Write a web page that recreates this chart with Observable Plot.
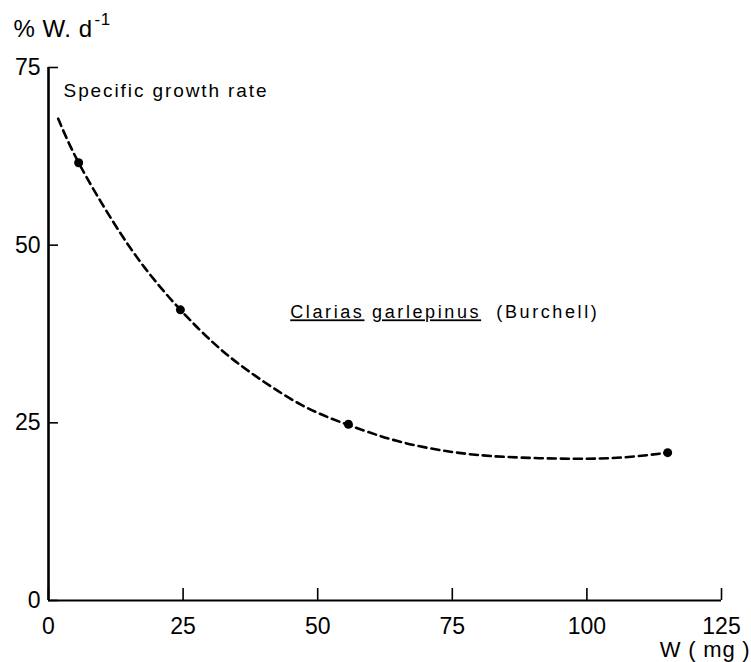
<!DOCTYPE html>
<html><head><meta charset="utf-8">
<script src="https://cdn.jsdelivr.net/npm/d3@7"></script>
<script src="https://cdn.jsdelivr.net/npm/@observablehq/plot@0.6"></script>
<style>body{margin:0;background:#fff}</style>
</head><body><div id="chart"></div>
<script>
// Observed points: weight W (mg) and specific growth rate (% W per day)
const weight = [5.6, 24.5, 55.7, 115];
const rate = [61.6, 40.9, 24.8, 20.8];
// Fitted dashed curve
const curveWeight = [1.8, 5.6, 12, 18, 24.5, 31, 37.5, 46.8, 55.7, 65, 75, 85, 97.5, 107, 115];
const curveRate = [67.8, 61.6, 53.3, 46.7, 40.9, 36.0, 32.1, 27.6, 24.7, 22.4, 20.9, 20.2, 19.95, 20.15, 20.8];
const xTicks = [0, 25, 50, 75, 100, 125];
const yTicks = [0, 25, 50, 75];
const yLabel = "% W. d";
const ySup = "-1";
const xLabel = "W ( mg )";
const panelTitle = "Specific growth rate";
const speciesGenus = "Clarias";
const speciesName = "garlepinus";
const speciesAuthor = "(Burchell)";

const points = weight.map((w, i) => ({w, r: rate[i]}));
const curve = curveWeight.map((w, i) => ({w, r: curveRate[i]}));

const W = 751, H = 662, mL = 48, mR = 30, mT = 67, mB = 62;
const frameW = W - mL - mR, frameH = H - mT - mB;
const font = "'Liberation Sans', Arial, Helvetica, sans-serif";

const chart = Plot.plot({
  width: W, height: H,
  marginLeft: mL, marginRight: mR, marginTop: mT, marginBottom: mB,
  x: {domain: [0, 125]},
  y: {domain: [0, 75]},
  style: {fontFamily: font, background: "#fff", color: "#000"},
  marks: [
    Plot.ruleX([0], {stroke: "#000", strokeWidth: 2.6}),
    Plot.ruleY([0], {stroke: "#000", strokeWidth: 2}),
    Plot.tickX(xTicks, {x: d => d, insetTop: frameH - 12, stroke: "#000", strokeWidth: 1.6}),
    Plot.tickY(yTicks, {y: d => d, insetRight: frameW - 10, stroke: "#000", strokeWidth: 1.6}),
    Plot.axisX({ticks: xTicks, tickSize: 0, tickPadding: 17, fontSize: 23, label: null}),
    Plot.axisY({ticks: yTicks, tickSize: 0, tickPadding: 8, fontSize: 23, label: null}),
    Plot.line(curve, {x: "w", y: "r", curve: "natural", stroke: "#000", strokeWidth: 2.6, strokeDasharray: "8,5"}),
    Plot.dot(points, {x: "w", y: "r", r: 4.5, fill: "#000", stroke: "none"}),
    Plot.text([yLabel], {frameAnchor: "top-left", dx: -35, dy: -31, text: d => d, textAnchor: "start", lineAnchor: "bottom", fontSize: 24, fill: "#000"}),
    Plot.text([xLabel], {frameAnchor: "bottom-right", dx: 29, dy: 56, text: d => d, textAnchor: "end", lineAnchor: "bottom", fontSize: 22, fill: "#000"}),
    Plot.text([panelTitle], {x: 2.8, y: 70.8, text: d => d, textAnchor: "start", lineAnchor: "bottom", fontSize: 19, fill: "#000"}),
    Plot.text([speciesGenus + " " + speciesName + " " + speciesAuthor], {x: 44.9, y: 39.7, text: d => d, textAnchor: "start", lineAnchor: "bottom", fontSize: 18, fill: "#000"})
  ]
});

const sel = d3.select(chart);
sel.selectAll("text").each(function() {
  const t = this.textContent;
  const s = d3.select(this);
  if (t === yLabel) {
    s.text(null).attr("letter-spacing", "0.5px");
    s.append("tspan").text(yLabel);
    s.append("tspan").attr("dy", -12).attr("font-size", 17).attr("dx", 2).text(ySup);
  } else if (t === xLabel) {
    s.attr("letter-spacing", "0.8px");
  } else if (t === panelTitle) {
    s.attr("letter-spacing", "1.9px");
  } else if (t.startsWith(speciesGenus)) {
    s.text(null).attr("letter-spacing", "2.6px");
    s.append("tspan").attr("text-decoration", "underline").text(speciesGenus);
    s.append("tspan").text(" ");
    s.append("tspan").attr("text-decoration", "underline").text(speciesName);
    s.append("tspan").text("  " + speciesAuthor);
  }
});
sel.selectAll("text").style("white-space", "pre");
document.getElementById("chart").appendChild(chart);
</script>
</body></html>
